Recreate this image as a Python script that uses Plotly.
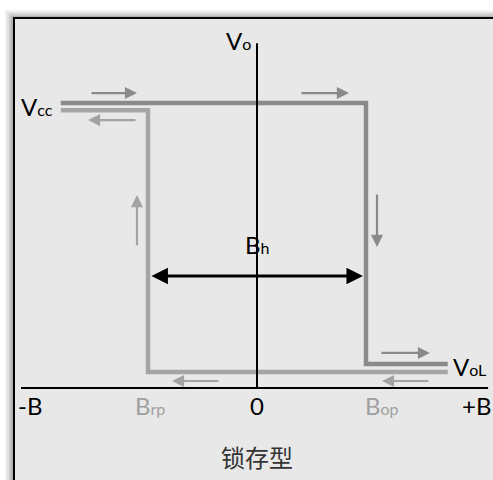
import plotly.graph_objects as go

# x in units of B (Brp = -1, Bop = +1), y in units of Vcc (axis = 0)
path_up_x = [-1.8, 1.0, 1.0, 1.75]
path_up_y = [1.0, 1.0, 0.084, 0.084]
path_dn_x = [-1.8, -1.0, -1.0, 1.75]
path_dn_y = [0.975, 0.975, 0.056, 0.056]

axis_x = [-2.165, 2.12]
axis_y_top = 1.21

tick_pos = [-2.08, -0.98, 0.0, 1.147, 2.01]
tick_text = ["-B", "B<span style='font-size:16px'>rp</span>", "0",
             "B<span style='font-size:16px'>op</span>", "+B"]
tick_color = ["black", "#a0a0a0", "black", "#a0a0a0", "black"]

# direction arrows: (tail x, tail y, head x, head y, colour)
arrows = [
    (-1.532, 1.035, -1.101, 1.035, "#8a8a8a"),
    (-1.101, 0.940, -1.550, 0.940, "#a3a3a3"),
    (0.394, 1.035, 0.844, 1.035, "#8a8a8a"),
    (1.101, 0.684, 1.101, 0.495, "#8a8a8a"),
    (-1.101, 0.495, -1.101, 0.677, "#a3a3a3"),
    (1.128, 0.123, 1.587, 0.123, "#8a8a8a"),
    (1.587, 0.0246, 1.147, 0.0246, "#a3a3a3"),
    (-0.339, 0.0246, -0.780, 0.0246, "#a3a3a3"),
]
bh_x = [-0.982, 0.972]
bh_y = 0.393

x_range = [-257 / 109, 236 / 109]
y_range = [-92 / 285, 388 / 285]

fig = go.Figure()

fig.add_trace(go.Scatter(x=path_dn_x, y=path_dn_y, mode="lines",
                         line=dict(color="#a5a5a5", width=4.5), hoverinfo="skip"))
fig.add_trace(go.Scatter(x=path_up_x, y=path_up_y, mode="lines",
                         line=dict(color="#8a8a8a", width=4.5), hoverinfo="skip"))
fig.add_trace(go.Scatter(x=axis_x, y=[0, 0], mode="lines",
                         line=dict(color="black", width=2), hoverinfo="skip"))
fig.add_trace(go.Scatter(x=[0, 0], y=[0, axis_y_top], mode="lines",
                         line=dict(color="black", width=2), hoverinfo="skip"))

font = "Lato, 'Open Sans', sans-serif"

for tx, ty, hx, hy, c in arrows:
    fig.add_annotation(x=hx, y=hy, ax=tx, ay=ty, xref="x", yref="y", axref="x", ayref="y",
                       text="", showarrow=True, arrowhead=2, arrowsize=1.1,
                       arrowwidth=2.2, arrowcolor=c, standoff=0, startstandoff=0)

fig.add_annotation(x=bh_x[1], y=bh_y, ax=bh_x[0], ay=bh_y, xref="x", yref="y",
                   axref="x", ayref="y", text="", showarrow=True, arrowhead=2,
                   startarrowhead=2, arrowside="end+start", arrowsize=1.1,
                   startarrowsize=1.1, arrowwidth=3, arrowcolor="black",
                   standoff=0, startstandoff=0)

labels = [
    (-0.174, 1.221, "V<span style='font-size:16px'>o</span>", "black"),
    (-2.018, 0.989, "V<span style='font-size:16px'>cc</span>", "black"),
    (1.954, 0.074, "V<span style='font-size:16px'>oL</span>", "black"),
    (0.0, 0.505, "B<span style='font-size:16px'>h</span>", "black"),
]
for lx, ly, t, c in labels:
    fig.add_annotation(x=lx, y=ly, text=t, showarrow=False,
                       font=dict(family=font, size=24, color=c))

for p, t, c in zip(tick_pos, tick_text, tick_color):
    fig.add_annotation(x=p, y=-0.063, text=t, showarrow=False,
                       font=dict(family=font, size=24, color=c))

fig.add_annotation(x=0, y=-0.239, text="锁存型", showarrow=False,
                   font=dict(family="Noto Sans CJK SC", size=24, color="#333333"))

# frame with soft shadow
shapes = []
for i, op in enumerate([0.05, 0.07, 0.09, 0.12]):
    d = 8 - 2 * i
    shapes.append(dict(type="rect", xref="paper", yref="paper",
                       x0=(13 - d) / 493, x1=1.1, y0=-0.1, y1=1 - (18 - d) / 480,
                       fillcolor=f"rgba(0,0,0,{op})", line=dict(width=0), layer="below"))
shapes.append(dict(type="rect", xref="paper", yref="paper",
                   x0=14 / 493, x1=1.1, y0=-0.1, y1=1 - 18 / 480,
                   fillcolor="#e8e8e8", line=dict(color="black", width=2), layer="below"))

fig.update_layout(
    width=493, height=480,
    margin=dict(l=0, r=0, t=0, b=0),
    paper_bgcolor="white", plot_bgcolor="rgba(0,0,0,0)",
    showlegend=False, shapes=shapes,
    xaxis=dict(range=x_range, visible=False, fixedrange=True),
    yaxis=dict(range=y_range, visible=False, fixedrange=True),
)

fig.write_html("out.html", config={"displayModeBar": False},
               post_script="document.body.style.margin='0';document.body.style.overflow='hidden';")
